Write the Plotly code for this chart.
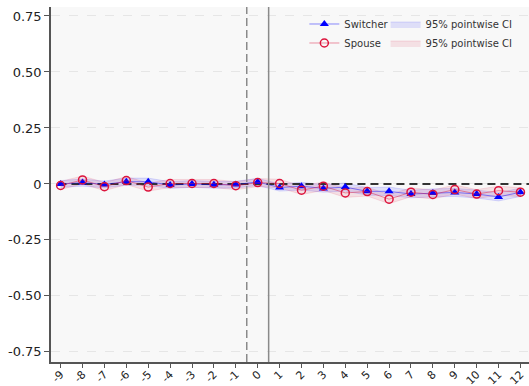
import plotly.graph_objects as go

periods = [-9, -8, -7, -6, -5, -4, -3, -2, -1, 0, 1, 2, 3, 4, 5, 6, 7, 8, 9, 10, 11, 12]
tick_labels = [str(p) for p in periods]

switcher = [0.000, 0.006, -0.002, 0.010, 0.010, -0.005, 0.000, -0.004, -0.003, 0.009,
            -0.016, -0.010, -0.020, -0.014, -0.033, -0.033, -0.045, -0.040, -0.038, -0.045, -0.058, -0.037]
switcher_lo = [-0.015, -0.010, -0.017, -0.006, -0.006, -0.020, -0.015, -0.019, -0.018, -0.007,
               -0.032, -0.027, -0.037, -0.032, -0.050, -0.052, -0.062, -0.058, -0.056, -0.063, -0.076, -0.056]
switcher_hi = [0.015, 0.022, 0.013, 0.026, 0.026, 0.010, 0.015, 0.011, 0.012, 0.025,
               0.000, 0.007, -0.003, 0.004, -0.016, -0.014, -0.028, -0.022, -0.020, -0.027, -0.040, -0.018]

spouse = [-0.007, 0.018, -0.012, 0.015, -0.014, 0.002, 0.002, 0.002, -0.008, 0.006,
          0.002, -0.028, -0.010, -0.040, -0.034, -0.068, -0.037, -0.047, -0.025, -0.045, -0.030, -0.037]
spouse_lo = [-0.025, 0.000, -0.030, -0.003, -0.032, -0.016, -0.016, -0.016, -0.026, -0.012,
             -0.017, -0.047, -0.029, -0.060, -0.054, -0.088, -0.057, -0.067, -0.045, -0.065, -0.050, -0.057]
spouse_hi = [0.011, 0.036, 0.006, 0.033, 0.004, 0.020, 0.020, 0.020, 0.010, 0.024,
             0.021, -0.009, 0.009, -0.020, -0.014, -0.048, -0.017, -0.027, -0.005, -0.025, -0.010, -0.017]

zero_x = [-9.1, 12.39]
zero_y = [0.0, 0.0]

y_ticks = [-0.75, -0.5, -0.25, 0, 0.25, 0.5, 0.75]
y_tick_labels = ["-0.75", "-0.50", "-0.25", "0", "0.25", "0.50", "0.75"]

fig = go.Figure()

# CI bands
fig.add_trace(go.Scatter(
    x=periods + periods[::-1], y=switcher_hi + switcher_lo[::-1],
    fill="toself", fillcolor="rgba(0,0,255,0.10)",
    line=dict(color="rgba(0,0,255,0.12)", width=1),
    name="95% pointwise CI", legend="legend2", hoverinfo="skip"))
fig.add_trace(go.Scatter(
    x=periods + periods[::-1], y=spouse_hi + spouse_lo[::-1],
    fill="toself", fillcolor="rgba(220,20,60,0.10)",
    line=dict(color="rgba(220,20,60,0.12)", width=1),
    name="95% pointwise CI", legend="legend2", hoverinfo="skip"))

# zero reference line
fig.add_trace(go.Scatter(
    x=zero_x, y=zero_y, mode="lines",
    line=dict(color="#333333", width=2, dash="8px,5px"),
    showlegend=False, hoverinfo="skip"))

fig.add_trace(go.Scatter(
    x=periods, y=switcher, mode="lines+markers", name="Switcher",
    line=dict(color="rgba(0,0,255,0.45)", width=1),
    marker=dict(symbol="triangle-up", size=8, color="#0000ff",
                line=dict(width=0))))
fig.add_trace(go.Scatter(
    x=periods, y=spouse, mode="lines+markers", name="Spouse",
    line=dict(color="rgba(220,20,60,0.45)", width=1),
    marker=dict(symbol="circle-open", size=8, color="#dc143c",
                line=dict(width=1.5, color="#dc143c"))))

fig.add_vline(x=-0.5, line=dict(color="#8a8a8a", width=1.5, dash="8px,4px"))
fig.add_vline(x=0.5, line=dict(color="#8a8a8a", width=1.5))

fig.update_layout(
    width=529, height=386,
    margin=dict(l=51, r=0, t=7, b=24),
    paper_bgcolor="white", plot_bgcolor="#f8f8f8",
    font=dict(family="DejaVu Sans", size=12, color="#222222"),
    showlegend=True,
    legend=dict(x=0.53, y=0.993, xanchor="left", yanchor="top",
                bgcolor="rgba(0,0,0,0)", font=dict(size=10, color="#333333"),
                tracegroupgap=0, itemwidth=30),
    legend2=dict(x=0.70, y=0.993, xanchor="left", yanchor="top",
                 bgcolor="rgba(0,0,0,0)", font=dict(size=10, color="#333333"),
                 tracegroupgap=0, itemwidth=30),
)
fig.update_xaxes(
    range=[-9.44, 12.39], tickmode="array", tickvals=periods, ticktext=tick_labels,
    tickangle=-45, ticks="outside", ticklen=4, tickcolor="#555555", automargin=False,
    showline=True, linecolor="#555555", linewidth=1.5, showgrid=False, zeroline=False,
    tickfont=dict(size=11, color="#222222"), ticklabelstandoff=-4)
fig.update_yaxes(
    range=[-0.795, 0.79], tickmode="array", tickvals=y_ticks, ticktext=y_tick_labels,
    ticks="outside", ticklen=5, tickcolor="#555555", automargin=False,
    showline=True, linecolor="#555555", linewidth=1.5,
    showgrid=True, gridcolor="#e6e6e6", griddash="dash", gridwidth=1, zeroline=False,
    tickfont=dict(size=13, color="#222222"))

fig.write_html("out.html", config={"displayModeBar": False},
               post_script="document.body.style.margin='0';document.body.style.padding='0';")
